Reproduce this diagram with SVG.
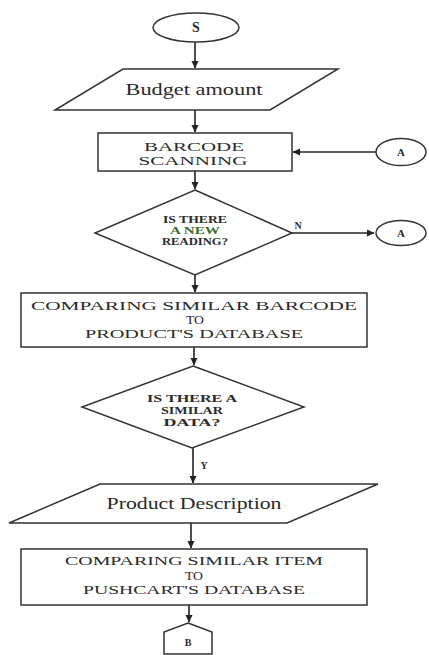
<svg xmlns="http://www.w3.org/2000/svg" width="429" height="655" viewBox="0 0 429 655">
<style>
.s{fill:#fff;stroke:#333;stroke-width:1.5}
.c{fill:none;stroke:#222;stroke-width:1.6}
.t{font-family:"Liberation Serif","Times New Roman",serif;fill:#2a2a2a;text-anchor:middle}
.b{font-weight:bold}
.m{font-size:11.5px}
</style>
<defs>
<marker id="ah" markerWidth="8" markerHeight="8" refX="7" refY="4" orient="auto" markerUnits="userSpaceOnUse">
<path d="M0,0.5 L7.5,4 L0,7.5 Z" fill="#222"/>
</marker>
</defs>
<rect width="429" height="655" fill="#fff"/>
<g id="connectors">
<line class="c" x1="195" y1="42" x2="195" y2="68" marker-end="url(#ah)"/>
<line class="c" x1="195" y1="110" x2="195" y2="132" marker-end="url(#ah)"/>
<line class="c" x1="376" y1="152" x2="293" y2="152" marker-end="url(#ah)"/>
<line class="c" x1="195" y1="171" x2="195" y2="189" marker-end="url(#ah)"/>
<line class="c" x1="292" y1="233" x2="374" y2="233" marker-end="url(#ah)"/>
<line class="c" x1="195" y1="275" x2="195" y2="292" marker-end="url(#ah)"/>
<line class="c" x1="194" y1="347" x2="194" y2="365" marker-end="url(#ah)"/>
<line class="c" x1="193" y1="448" x2="193" y2="483" marker-end="url(#ah)"/>
<line class="c" x1="191" y1="523" x2="191" y2="548" marker-end="url(#ah)"/>
<line class="c" x1="189" y1="605" x2="189" y2="622" marker-end="url(#ah)"/>
<text class="t b" x="298" y="229" font-size="10">N</text>
<text class="t b" x="204" y="469" font-size="10">Y</text>
</g>
<g id="start">
<ellipse class="s" cx="196" cy="27.5" rx="43" ry="14.5"/>
<text class="t b" x="196" y="32" font-size="14">S</text>
</g>
<g id="budget">
<polygon class="s" points="123,69 338,69 270,110 55,110"/>
<text class="t" x="194" y="95" font-size="17" textLength="137" lengthAdjust="spacingAndGlyphs">Budget amount</text>
</g>
<g id="scan">
<rect class="s" x="98" y="133" width="194" height="38"/>
<text class="t m" x="194" y="151" textLength="100" lengthAdjust="spacingAndGlyphs">BARCODE</text>
<text class="t m" x="193" y="164.5" textLength="109" lengthAdjust="spacingAndGlyphs">SCANNING</text>
</g>
<g id="connA1">
<ellipse class="s" cx="401" cy="152" rx="25" ry="13.5"/>
<text class="t b" x="401" y="156" font-size="11">A</text>
</g>
<g id="decision1">
<polygon class="s" points="195,190 292,233 195,275 95,233"/>
<text class="t b" x="195" y="223" font-size="9.5" textLength="64" lengthAdjust="spacingAndGlyphs">IS THERE</text>
<text class="t b" x="195" y="234" font-size="9.5" textLength="50" lengthAdjust="spacingAndGlyphs" style="fill:#3f6b30">A NEW</text>
<text class="t b" x="195" y="245" font-size="9.5" textLength="66" lengthAdjust="spacingAndGlyphs">READING?</text>
</g>
<g id="connA2">
<ellipse class="s" cx="401" cy="233" rx="25" ry="12.5"/>
<text class="t b" x="401" y="237" font-size="11">A</text>
</g>
<g id="compare1">
<rect class="s" x="21" y="293" width="346" height="54"/>
<text class="t m" x="194" y="310" textLength="326" lengthAdjust="spacingAndGlyphs">COMPARING SIMILAR BARCODE</text>
<text class="t m" x="195" y="323.5" textLength="18" lengthAdjust="spacingAndGlyphs">TO</text>
<text class="t m" x="194" y="337.5" textLength="218" lengthAdjust="spacingAndGlyphs">PRODUCT'S DATABASE</text>
</g>
<g id="decision2">
<polygon class="s" points="193,366 304,407 192,448 82,407"/>
<text class="t b" x="192" y="402" font-size="9.5" textLength="90" lengthAdjust="spacingAndGlyphs">IS THERE A</text>
<text class="t b" x="192" y="414" font-size="9.5" textLength="62" lengthAdjust="spacingAndGlyphs">SIMILAR</text>
<text class="t b" x="192" y="426" font-size="9.5" textLength="57" lengthAdjust="spacingAndGlyphs">DATA?</text>
</g>
<g id="product">
<polygon class="s" points="100,484 378,484 287,523 9,523"/>
<text class="t" x="194" y="509" font-size="16" textLength="175" lengthAdjust="spacingAndGlyphs">Product Description</text>
</g>
<g id="compare2">
<rect class="s" x="21" y="549" width="346" height="56"/>
<text class="t m" x="194" y="565" textLength="258" lengthAdjust="spacingAndGlyphs">COMPARING SIMILAR ITEM</text>
<text class="t m" x="194" y="579.5" textLength="18" lengthAdjust="spacingAndGlyphs">TO</text>
<text class="t m" x="194" y="594" textLength="222" lengthAdjust="spacingAndGlyphs">PUSHCART'S DATABASE</text>
</g>
<g id="connB">
<polygon class="s" points="188,623 212,632 212,654 164,654 164,632"/>
<text class="t b" x="188" y="646" font-size="10">B</text>
</g>
</svg>
